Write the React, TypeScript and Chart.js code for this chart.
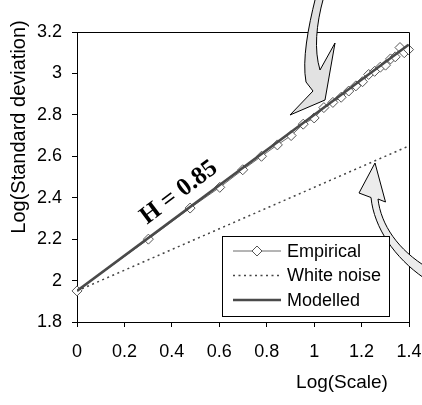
import React, { useEffect, useRef } from "react";
import { Chart, registerables } from "chart.js";

Chart.register(...registerables);

const scaleX = [0, 0.301, 0.477, 0.602, 0.699, 0.778, 0.845, 0.903, 0.954, 1.0, 1.041, 1.079, 1.114, 1.146, 1.176, 1.204, 1.23, 1.255, 1.279, 1.301, 1.322, 1.342, 1.362, 1.38, 1.398];
const empiricalY = [1.95, 2.2, 2.35, 2.45, 2.535, 2.6, 2.655, 2.7, 2.755, 2.785, 2.835, 2.86, 2.885, 2.915, 2.94, 2.96, 2.995, 3.01, 3.03, 3.04, 3.07, 3.08, 3.125, 3.1, 3.115];
const whiteNoiseX = [0, 1.398];
const whiteNoiseY = [1.95, 2.649];
const modelledX = [0, 1.398];
const modelledY = [1.95, 3.138];
const xTicks = [0, 0.2, 0.4, 0.6, 0.8, 1, 1.2, 1.4];
const yTicks = [1.8, 2, 2.2, 2.4, 2.6, 2.8, 3, 3.2];
const seriesLabels = ["Empirical", "White noise", "Modelled"];
const xTitle = "Log(Scale)";
const yTitle = "Log(Standard deviation)";
const annotationText = "H = 0.85";
const annotationAt = [0.43, 2.425];

const FONT = "Liberation Sans, Arial, sans-serif";

const zip = (xs: number[], ys: number[]) => xs.map((x, i) => ({ x, y: ys[i] }));

const decorPlugin = {
  id: "decor",
  afterDatasetsDraw(chart: any) {
    const { ctx, chartArea: a, scales } = chart;
    ctx.save();
    ctx.strokeStyle = "#000";
    ctx.lineWidth = 1;
    ctx.beginPath();
    ctx.moveTo(a.left, Math.round(a.top) + 0.5);
    ctx.lineTo(Math.round(a.right) + 0.5, Math.round(a.top) + 0.5);
    ctx.lineTo(Math.round(a.right) + 0.5, a.bottom);
    ctx.stroke();

    const hx = scales.x.getPixelForValue(annotationAt[0]);
    const hy = scales.y.getPixelForValue(annotationAt[1]);
    ctx.translate(hx, hy);
    ctx.rotate((-37 * Math.PI) / 180);
    ctx.font = "bold 25px 'Liberation Serif', 'Times New Roman', serif";
    ctx.fillStyle = "#000";
    ctx.textAlign = "center";
    ctx.textBaseline = "middle";
    ctx.fillText(annotationText, 0, 0);
    ctx.restore();
  },
  afterDraw(chart: any) {
    const { ctx } = chart;
    ctx.save();
    ctx.fillStyle = "#000";
    ctx.font = `19px ${FONT}`;
    ctx.textAlign = "center";
    ctx.textBaseline = "middle";
    ctx.fillText(xTitle, 342, 383);
    ctx.save();
    ctx.translate(19, 127);
    ctx.rotate(-Math.PI / 2);
    ctx.font = `20px ${FONT}`;
    ctx.fillText(yTitle, 0, 0);
    ctx.restore();

    ctx.lineWidth = 1;
    ctx.strokeStyle = "#000";
    ctx.fillStyle = "#e2e2e2";
    ctx.beginPath();
    ctx.moveTo(315.5, -2);
    ctx.bezierCurveTo(308, 28, 302, 60, 306, 82);
    ctx.lineTo(313, 91);
    ctx.lineTo(290, 115);
    ctx.lineTo(325, 100);
    ctx.lineTo(335, 43);
    ctx.lineTo(320, 70);
    ctx.bezierCurveTo(314, 50, 316, 25, 323.5, -2);
    ctx.closePath();
    ctx.fill();
    ctx.stroke();

    ctx.fillStyle = "#ececec";
    ctx.beginPath();
    ctx.moveTo(375, 163);
    ctx.lineTo(385.5, 202);
    ctx.lineTo(378, 199);
    ctx.bezierCurveTo(381, 225, 398, 250, 428, 268);
    ctx.lineTo(424, 278);
    ctx.bezierCurveTo(395, 258, 374, 228, 371, 197.5);
    ctx.lineTo(359, 193);
    ctx.closePath();
    ctx.fill();
    ctx.stroke();

    const L = 222, T = 236, R = 389, B = 316;
    ctx.fillStyle = "#fff";
    ctx.fillRect(L, T, R - L, B - T);
    ctx.strokeStyle = "#000";
    ctx.strokeRect(L + 0.5, T + 0.5, R - L, B - T);
    const rows = [251, 275.5, 300];
    const ds = chart.data.datasets;
    rows.forEach((ry, i) => {
      const d = ds[i];
      ctx.save();
      ctx.strokeStyle = d.borderColor;
      ctx.lineWidth = d.borderWidth;
      ctx.setLineDash(d.borderDash || []);
      ctx.beginPath();
      ctx.moveTo(233, ry);
      ctx.lineTo(281, ry);
      ctx.stroke();
      ctx.restore();
      if (i === 0) {
        ctx.save();
        ctx.fillStyle = "#fff";
        ctx.strokeStyle = d.pointBorderColor;
        ctx.lineWidth = 1;
        ctx.beginPath();
        ctx.moveTo(257, ry - 5);
        ctx.lineTo(262, ry);
        ctx.lineTo(257, ry + 5);
        ctx.lineTo(252, ry);
        ctx.closePath();
        ctx.fill();
        ctx.stroke();
        ctx.restore();
      }
      ctx.fillStyle = "#000";
      ctx.font = `18px ${FONT}`;
      ctx.textAlign = "left";
      ctx.textBaseline = "middle";
      ctx.fillText(d.label, 287, ry + 1);
    });
    ctx.restore();
  },
};

export default function App() {
  const ref = useRef<HTMLCanvasElement | null>(null);
  useEffect(() => {
    document.body.style.margin = "0";
    if (!ref.current) return;
    const fmt = (v: number) => String(Number(v.toFixed(1)));
    const chart = new Chart(ref.current, {
      type: "scatter",
      data: {
        datasets: [
          {
            label: seriesLabels[0],
            data: zip(scaleX, empiricalY),
            showLine: true,
            borderColor: "#6a6a6a",
            borderWidth: 1,
            pointStyle: "rectRot",
            pointRadius: 5,
            pointBackgroundColor: "#fff",
            pointBorderColor: "#555",
            pointBorderWidth: 1,
            clip: false as any,
            order: 1,
          },
          {
            label: seriesLabels[1],
            data: zip(whiteNoiseX, whiteNoiseY),
            showLine: true,
            borderColor: "#444",
            borderWidth: 1.5,
            borderDash: [2, 3.5],
            pointRadius: 0,
            order: 2,
          },
          {
            label: seriesLabels[2],
            data: zip(modelledX, modelledY),
            showLine: true,
            borderColor: "#4a4a4a",
            borderWidth: 2.5,
            pointRadius: 0,
            order: 0,
          },
        ] as any,
      },
      options: {
        animation: false,
        responsive: false,
        devicePixelRatio: 1,
        layout: { padding: { top: 32, right: 0, left: 0, bottom: 0 } },
        plugins: { legend: { display: false }, title: { display: false }, tooltip: { enabled: false } },
        scales: {
          x: {
            type: "linear",
            min: 0,
            max: 1.4,
            afterBuildTicks: (s: any) => { s.ticks = xTicks.map((v) => ({ value: v })); },
            afterFit: (s: any) => { s.height = 83; s.paddingRight = 13; },
            grid: { drawOnChartArea: false, drawTicks: true, tickLength: 5, color: "#000" },
            border: { display: true, color: "#000", width: 1 },
            ticks: { color: "#000", font: { family: FONT, size: 18 }, padding: 14, maxRotation: 0, autoSkip: false, callback: (v: any) => fmt(Number(v)) },
          },
          y: {
            type: "linear",
            min: 1.8,
            max: 3.2,
            afterBuildTicks: (s: any) => { s.ticks = yTicks.map((v) => ({ value: v })); },
            afterFit: (s: any) => { s.width = 77; },
            grid: { drawOnChartArea: false, drawTicks: true, tickLength: 5, color: "#000" },
            border: { display: true, color: "#000", width: 1 },
            ticks: { color: "#000", font: { family: FONT, size: 18 }, padding: 10, autoSkip: false, callback: (v: any) => fmt(Number(v)) },
          },
        },
      } as any,
      plugins: [decorPlugin],
    });
    return () => chart.destroy();
  }, []);
  return (
    <div style={{ width: 422, height: 405, background: "#fff" }}>
      <canvas ref={ref} width={422} height={405} style={{ display: "block" }} />
    </div>
  );
}
